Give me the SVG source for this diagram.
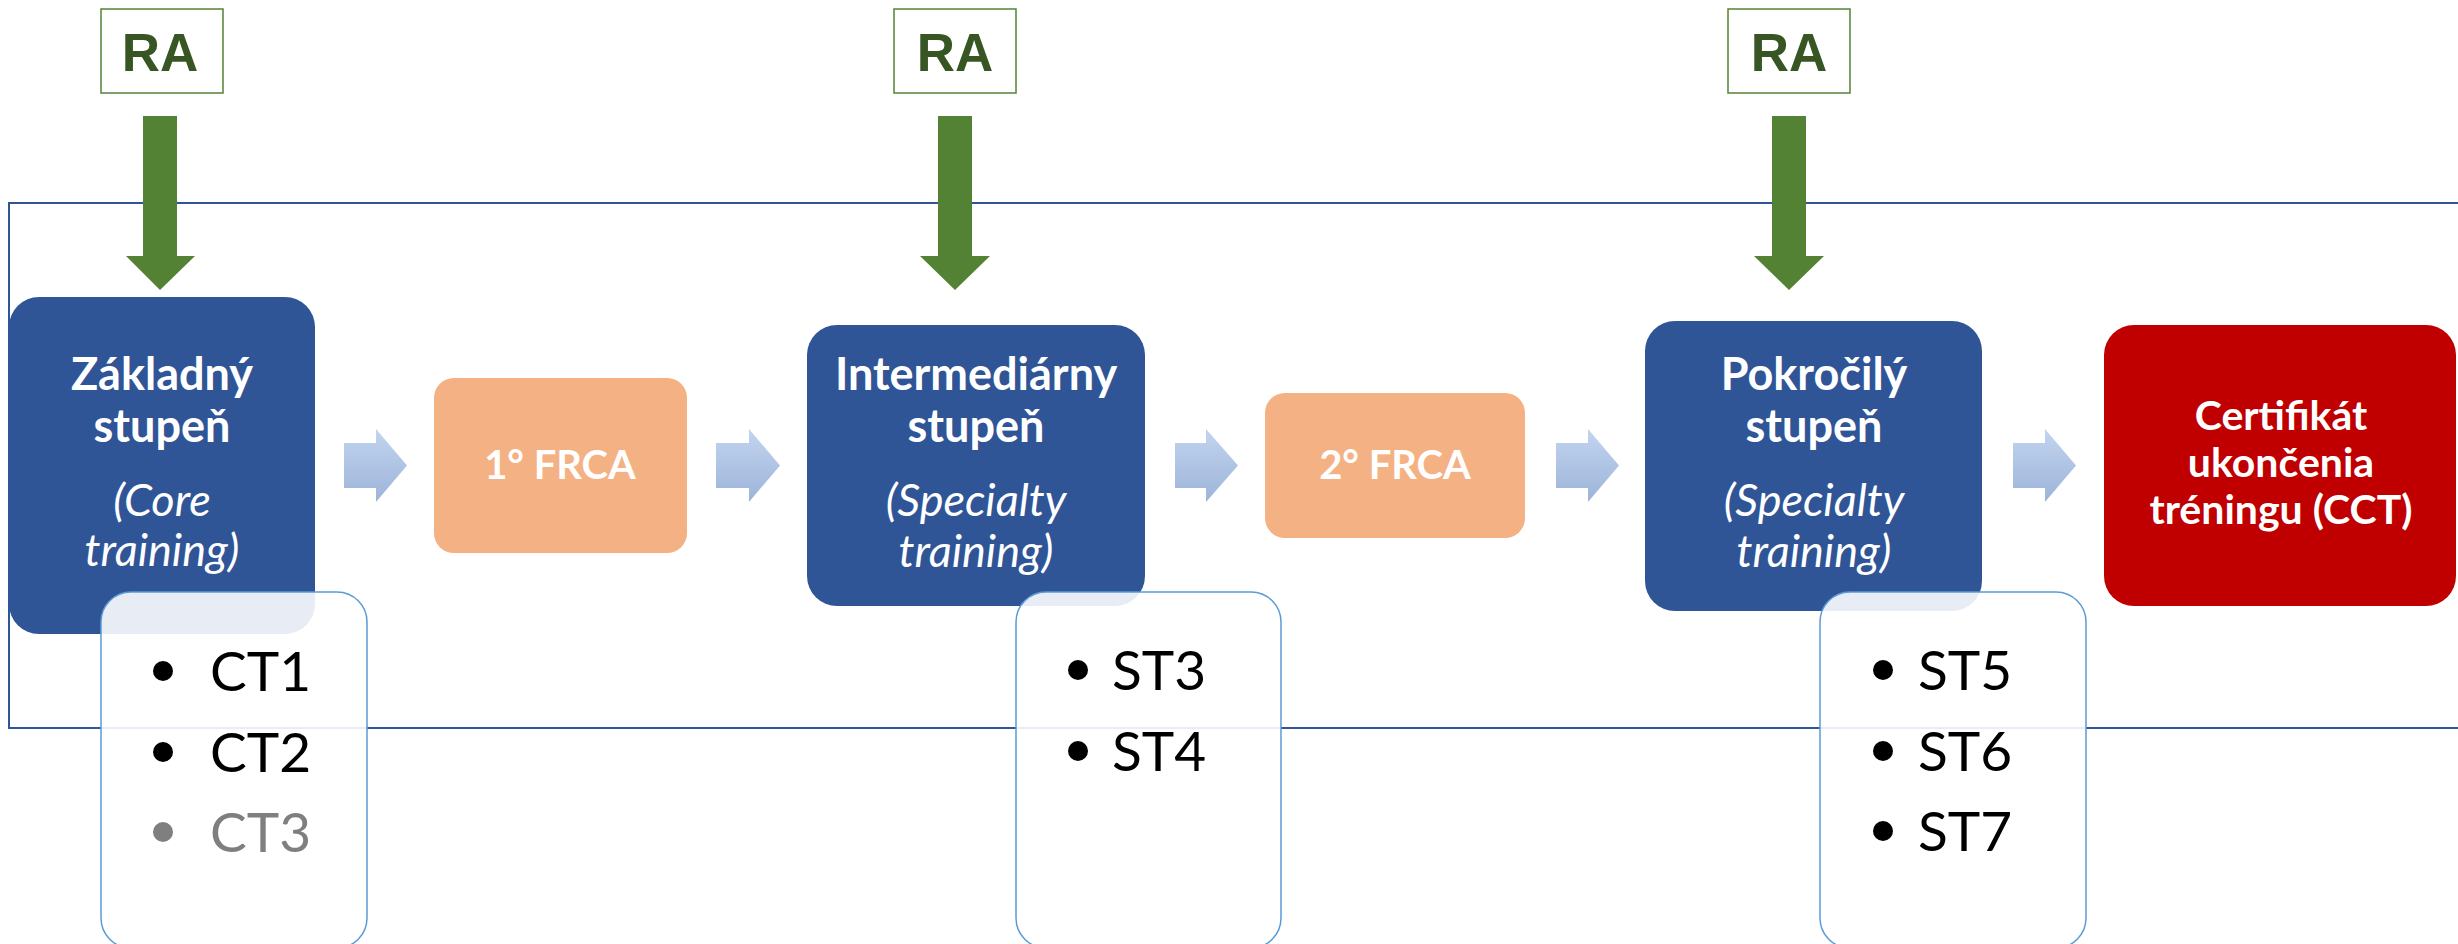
<svg xmlns="http://www.w3.org/2000/svg" width="2458" height="944" viewBox="0 0 2458 944">
<defs>
<linearGradient id="lb" x1="0" y1="0" x2="0" y2="1">
<stop offset="0" stop-color="#C2D4EF"/>
<stop offset="1" stop-color="#9DB4D9"/>
</linearGradient>
<style>
.stage{fill:#2F5597}
.frca{fill:#F4B183}
.cct{fill:#C00000}
.list{fill:#FFFFFF;fill-opacity:0.89;stroke:#5B9BD5;stroke-width:1.5}
.ra{fill:#FFFFFF;stroke:#548235;stroke-width:1.5}
.ratxt{font-family:"Liberation Sans",Arial,sans-serif;font-weight:bold;font-size:53px;fill:#375623;text-anchor:middle}
.green{fill:#548235}
.flow{fill:url(#lb)}
.t{font-family:Lato,"Noto Sans",sans-serif;fill:#FFFFFF;text-anchor:middle}
.b{font-weight:bold;font-size:45px}
.i{font-style:italic;font-size:45px}
.f{font-weight:bold;font-size:40px}
.c{font-weight:bold;font-size:41px}
.li{font-family:Lato,"Noto Sans",sans-serif;font-size:55px;fill:#000000}
.gray{fill:#7F7F7F}
</style>
</defs>
<rect id="frame" x="9" y="203" width="2470" height="525" fill="none" stroke="#2F5597" stroke-width="2"/>
<g id="connectors">
<path class="green" d="M143 116 H177 V256 H195 L160 290 L126 256 H143 Z"/>
<path class="green" d="M938 116 H972 V256 H990 L955 290 L920 256 H938 Z"/>
<path class="green" d="M1772 116 H1806 V256 H1824 L1789 290 L1754 256 H1772 Z"/>
<path class="flow" d="M344 443 H376 V429 L407 465.5 L376 502 V488 H344 Z"/>
<path class="flow" d="M716 443 H749 V429 L780 465.5 L749 502 V488 H716 Z"/>
<path class="flow" d="M1175 443 H1206 V429 L1238 465.5 L1206 502 V488 H1175 Z"/>
<path class="flow" d="M1556 443 H1588 V429 L1619 465.5 L1588 502 V488 H1556 Z"/>
<path class="flow" d="M2013 443 H2045 V429 L2076 465.5 L2045 502 V488 H2013 Z"/>
</g>
<g id="ra1"><rect class="ra" x="101" y="9" width="122" height="84"/><text class="ratxt" x="160" y="71">RA</text></g>
<g id="ra2"><rect class="ra" x="894" y="9" width="122" height="84"/><text class="ratxt" x="955" y="71">RA</text></g>
<g id="ra3"><rect class="ra" x="1728" y="9" width="122" height="84"/><text class="ratxt" x="1789" y="71">RA</text></g>
<g id="zakladny">
<rect class="stage" x="9" y="297" width="306" height="337" rx="30"/>
<text class="t b" x="162" y="390">Základný</text>
<text class="t b" x="162" y="442">stupeň</text>
<text class="t i" x="162" y="516">(Core</text>
<text class="t i" x="162" y="566">training)</text>
</g>
<g id="frca1">
<rect class="frca" x="434" y="378" width="253" height="175" rx="20"/>
<text class="t f" x="560" y="479">1° FRCA</text>
</g>
<g id="intermediarny">
<rect class="stage" x="807" y="325" width="338" height="281" rx="30"/>
<text class="t b" x="976" y="390">Intermediárny</text>
<text class="t b" x="976" y="442">stupeň</text>
<text class="t i" x="976" y="516">(Specialty</text>
<text class="t i" x="976" y="567">training)</text>
</g>
<g id="frca2">
<rect class="frca" x="1265" y="393" width="260" height="145" rx="20"/>
<text class="t f" x="1395" y="479">2° FRCA</text>
</g>
<g id="pokrocily">
<rect class="stage" x="1645" y="321" width="337" height="290" rx="30"/>
<text class="t b" x="1814" y="390">Pokročilý</text>
<text class="t b" x="1814" y="442">stupeň</text>
<text class="t i" x="1814" y="516">(Specialty</text>
<text class="t i" x="1814" y="567">training)</text>
</g>
<g id="cct">
<rect class="cct" x="2104" y="325" width="352" height="281" rx="30"/>
<text class="t c" x="2281" y="430">Certifikát</text>
<text class="t c" x="2281" y="477">ukončenia</text>
<text class="t c" x="2281" y="524">tréningu (CCT)</text>
</g>
<g id="list-ct">
<rect class="list" x="101" y="592" width="266" height="356" rx="30"/>
<circle cx="163" cy="671" r="10"/>
<text class="li" x="210" y="691">CT1</text>
<circle cx="163" cy="752" r="10"/>
<text class="li" x="210" y="772">CT2</text>
<circle class="gray" cx="163" cy="832" r="10"/>
<text class="li gray" x="210" y="852">CT3</text>
</g>
<g id="list-st34">
<rect class="list" x="1016" y="592" width="265" height="356" rx="30"/>
<circle cx="1078" cy="670" r="10"/>
<text class="li" x="1112" y="690">ST3</text>
<circle cx="1078" cy="751" r="10"/>
<text class="li" x="1112" y="771">ST4</text>
</g>
<g id="list-st57">
<rect class="list" x="1820" y="592" width="266" height="356" rx="30"/>
<circle cx="1883" cy="670" r="10"/>
<text class="li" x="1918" y="690">ST5</text>
<circle cx="1883" cy="751" r="10"/>
<text class="li" x="1918" y="771">ST6</text>
<circle cx="1883" cy="831" r="10"/>
<text class="li" x="1918" y="851">ST7</text>
</g>
</svg>
